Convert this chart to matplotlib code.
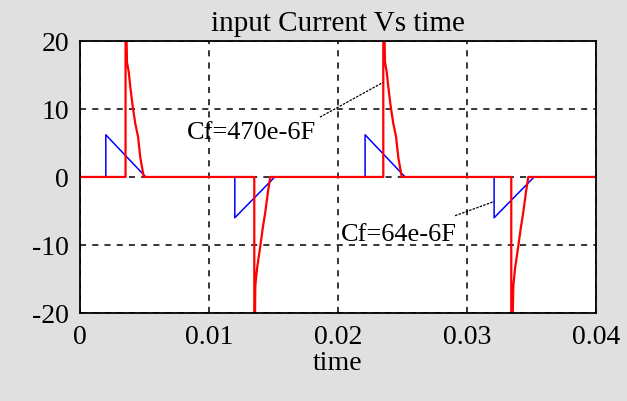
import matplotlib
matplotlib.use('Agg')
import matplotlib.pyplot as plt

matplotlib.rcParams.update({'font.size': 20, 'font.family': 'Liberation Serif',
                            'axes.unicode_minus': False})

# Cf = 470e-6 F (red) : input current vs time
t_red = [0, 0.00353, 0.00353, 0.00364, 0.00378, 0.0039, 0.00409, 0.00429, 0.0045, 0.00467, 0.00494,
         0.01351, 0.01351, 0.01359, 0.01372, 0.01398, 0.01416, 0.01436, 0.01457, 0.01475,
         0.02351, 0.02351, 0.02364, 0.02378, 0.0239, 0.02409, 0.02429, 0.0245, 0.02467, 0.02494,
         0.03343, 0.03343, 0.03359, 0.03372, 0.03398, 0.03416, 0.03436, 0.03457, 0.03475, 0.04]
i_red = [0, 0, 30, 16.9, 15.4, 13.2, 10.3, 7.8, 5.9, 2.9, 0,
         0, -30, -16, -13.5, -10.1, -7.6, -5.2, -2.2, 0,
         0, 30, 16.9, 15.4, 13.2, 10.3, 7.8, 5.9, 2.9, 0,
         0, -30, -16, -13.5, -10.1, -7.6, -5.2, -2.2, 0, 0]

# Cf = 64e-6 F (blue)
t_blue = [0, 0.0020, 0.0020, 0.0051, 0.0120, 0.0120, 0.0151,
          0.0221, 0.0221, 0.0252, 0.0321, 0.0321, 0.0352, 0.04]
i_blue = [0, 0, 6.2, 0, 0, -6.0, 0,
          0, 6.2, 0, 0, -6.0, 0, 0]

xticks = [0, 0.01, 0.02, 0.03, 0.04]
xticklabels = ['0', '0.01', '0.02', '0.03', '0.04']
yticks = [-20, -10, 0, 10, 20]

# leader lines for the two labels
lead_470_t = [0.0186, 0.02349]
lead_470_i = [8.8, 13.9]
lead_64_t = [0.02907, 0.03212]
lead_64_i = [-5.7, -3.6]

f = plt.figure(figsize=(6.27, 4.02), dpi=100, facecolor='#e0e0e0')
ax = f.add_axes([0.1276, 0.219, 0.823, 0.6766])
ax.set_facecolor('white')

ax.plot(t_blue, i_blue, color='#0000ff', lw=1.1)
ax.plot(t_red, i_red, color='#ff0000', lw=1.6)

ax.plot(lead_470_t, lead_470_i, color='black', lw=0.9, linestyle=(0, (2, 1)))
ax.plot(lead_64_t, lead_64_i, color='black', lw=0.9, linestyle=(0, (2, 1)))
ax.text(0.0133, 6.6, 'Cf=470e-6F', ha='center', va='center', fontsize=19)
ax.text(0.0247, -8.4, 'Cf=64e-6F', ha='center', va='center', fontsize=19)

ax.set_xlim(0, 0.04)
ax.set_ylim(-20, 20)
ax.set_xticks(xticks)
ax.set_xticklabels(xticklabels)
ax.set_yticks(yticks)
ax.tick_params(length=0, pad=8)
ax.grid(True, color='black', linestyle=(0, (4, 4)), lw=1.1)
for s in ax.spines.values():
    s.set_linewidth(1.3)

ax.set_title('input Current Vs time', fontsize=21, pad=8)
ax.set_xlabel('time', fontsize=20, labelpad=1)

f.savefig('out.png', dpi=100, facecolor=f.get_facecolor())
